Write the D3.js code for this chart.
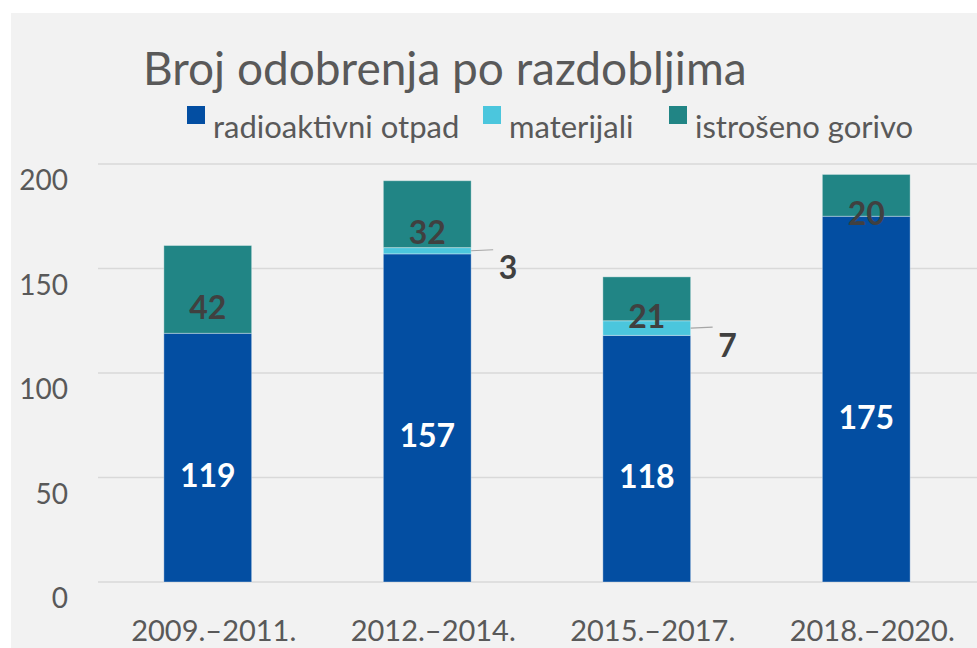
<!DOCTYPE html>
<html>
<head>
<meta charset="utf-8">
<script src="https://cdn.jsdelivr.net/npm/d3@7"></script>
<style>
html,body{margin:0;padding:0;background:#fff;}
svg{display:block;}
text{font-family:Lato,"Open Sans",sans-serif;}
</style>
</head>
<body>
<svg id="chart" width="977" height="648"></svg>
<script>
const categories = ["2009.–2011.", "2012.–2014.", "2015.–2017.", "2018.–2020."];
const radioaktivniOtpad = [119, 157, 118, 175];
const materijali = [0, 3, 7, 0];
const istrosenoGorivo = [42, 32, 21, 20];
const seriesNames = ["radioaktivni otpad", "materijali", "istrošeno gorivo"];
const seriesColors = ["#034ea2", "#4bc6dd", "#218585"];
const yTicks = [0, 50, 100, 150, 200];
const titleText = "Broj odobrenja po razdobljima";

const svg = d3.select("#chart");
const W = 977, H = 648;

// background panel
svg.append("rect").attr("x", 11).attr("y", 13).attr("width", W - 11).attr("height", H - 13).attr("fill", "#f2f2f2");

const x = d3.scaleBand().domain(categories).range([98, 976]).paddingInner(0.6).paddingOuter(0.3);
const y = d3.scaleLinear().domain([0, 200]).range([582, 164]);

// gridlines
svg.append("g").selectAll("line").data(yTicks).join("line")
  .attr("x1", 98).attr("x2", 977)
  .attr("y1", d => y(d)).attr("y2", d => y(d))
  .attr("stroke", "#d9d9d9").attr("stroke-width", 1.5);

// y tick labels
svg.append("g").selectAll("text").data(yTicks).join("text")
  .attr("x", 68).attr("y", d => y(d) + 26)
  .attr("text-anchor", "end")
  .attr("font-size", 28).attr("fill", "#595959")
  .text(d => d);

// stack data
const rows = categories.map((c, i) => ({cat: c, r: radioaktivniOtpad[i], m: materijali[i], g: istrosenoGorivo[i]}));
const stack = d3.stack().keys(["r", "m", "g"])(rows);

const gBars = svg.append("g");
stack.forEach((layer, li) => {
  gBars.append("g").selectAll("rect").data(layer).join("rect")
    .attr("x", d => x(d.data.cat))
    .attr("width", x.bandwidth())
    .attr("y", d => y(d[1]))
    .attr("height", d => y(d[0]) - y(d[1]))
    .attr("fill", seriesColors[li])
    .attr("stroke", "rgba(255,255,255,0.35)")
    .attr("stroke-width", 1)
    .style("display", d => (d[1] - d[0]) > 0 ? null : "none");
});

// labels
const labelOffset = 17;
// radioaktivni: white bold centered
svg.append("g").selectAll("text").data(stack[0]).join("text")
  .attr("x", d => x(d.data.cat) + x.bandwidth() / 2)
  .attr("y", d => (y(d[0]) + y(d[1])) / 2 + labelOffset)
  .attr("text-anchor", "middle").attr("dominant-baseline", "central")
  .attr("font-size", 32).attr("font-weight", "bold").attr("fill", "#ffffff")
  .text(d => d[1] - d[0]);

// istroseno: dark gray bold centered
svg.append("g").selectAll("text").data(stack[2]).join("text")
  .attr("x", d => x(d.data.cat) + x.bandwidth() / 2)
  .attr("y", d => (y(d[0]) + y(d[1])) / 2 + labelOffset)
  .attr("text-anchor", "middle").attr("dominant-baseline", "central")
  .attr("font-size", 32).attr("font-weight", "bold").attr("fill", "#404040")
  .text(d => d[1] - d[0]);

// materijali: outside label with leader line
const matData = stack[1].filter(d => d[1] - d[0] > 0);
const gm = svg.append("g");
gm.selectAll("line").data(matData).join("line")
  .attr("x1", d => x(d.data.cat) + x.bandwidth())
  .attr("y1", d => (y(d[0]) + y(d[1])) / 2)
  .attr("x2", d => x(d.data.cat) + x.bandwidth() + 22)
  .attr("y2", d => (y(d[0]) + y(d[1])) / 2 - 1)
  .attr("stroke", "#a6a6a6").attr("stroke-width", 1.2);
gm.selectAll("text").data(matData).join("text")
  .attr("x", d => x(d.data.cat) + x.bandwidth() + 37)
  .attr("y", d => (y(d[0]) + y(d[1])) / 2 + 16)
  .attr("text-anchor", "middle").attr("dominant-baseline", "central")
  .attr("font-size", 32).attr("font-weight", "bold").attr("fill", "#404040")
  .text(d => d[1] - d[0]);

// x labels
svg.append("g").selectAll("text").data(categories).join("text")
  .attr("x", d => x(d) + x.bandwidth() / 2 + 6)
  .attr("y", 641)
  .attr("text-anchor", "middle")
  .attr("font-size", 29).attr("fill", "#595959")
  .text(d => d);

// title
svg.append("text").attr("x", 143).attr("y", 85)
  .attr("font-size", 46).attr("fill", "#595959")
  .text(titleText);

// legend
const legendX = [187, 483, 669];
const lg = svg.append("g");
seriesNames.forEach((n, i) => {
  lg.append("rect").attr("x", legendX[i]).attr("y", 106).attr("width", 18).attr("height", 18).attr("fill", seriesColors[i]);
  lg.append("text").attr("x", legendX[i] + 26).attr("y", 138)
    .attr("font-size", 31).attr("fill", "#595959").text(n);
});
</script>
</body>
</html>
